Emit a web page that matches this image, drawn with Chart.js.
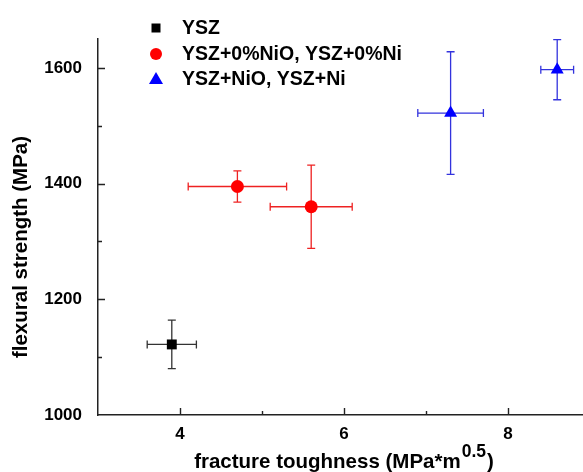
<!DOCTYPE html>
<html>
<head>
<meta charset="utf-8">
<script src="https://cdn.jsdelivr.net/npm/chart.js@4.4.0/dist/chart.umd.min.js"></script>
<style>
  html, body { margin: 0; padding: 0; background: #fff; overflow: hidden; }
</style>
</head>
<body>
<canvas id="chart" width="599" height="472"></canvas>
<script>
// --- data ---
const seriesNames = ['YSZ', 'YSZ+0%NiO, YSZ+0%Ni', 'YSZ+NiO, YSZ+Ni'];

const yszToughness = [3.9];
const yszStrength = [1122];
const yszToughErr = [0.3];
const yszStrengthErr = [42];

const zeroToughness = [4.7, 5.6];
const zeroStrength = [1395, 1360];
const zeroToughErr = [0.6, 0.5];
const zeroStrengthErr = [27, 72];

const niToughness = [7.3, 8.6];
const niStrength = [1522, 1597];
const niToughErr = [0.4, 0.2];
const niStrengthErr = [106, 52];

const xTickLabels = [4, 6, 8];
const yTickLabels = [1000, 1200, 1400, 1600];

const FONT = "'Liberation Sans', Arial, sans-serif";

const toPoints = (xs, ys) => xs.map((x, i) => ({ x, y: ys[i] }));

// --- error bars, drawn under the markers ---
const errorBars = {
  id: 'errorBars',
  beforeDatasetsDraw(chart) {
    const { ctx, scales: { x, y } } = chart;
    chart.data.datasets.forEach(ds => {
      ds.data.forEach((p, i) => {
        const cx = x.getPixelForValue(p.x), cy = y.getPixelForValue(p.y);
        const x0 = x.getPixelForValue(p.x - ds.xErr[i]), x1 = x.getPixelForValue(p.x + ds.xErr[i]);
        const y0 = y.getPixelForValue(p.y + ds.yErr[i]), y1 = y.getPixelForValue(p.y - ds.yErr[i]);
        const cap = 4;
        ctx.save();
        ctx.strokeStyle = ds.errColor;
        ctx.lineWidth = 1.3;
        ctx.beginPath();
        ctx.moveTo(x0, cy); ctx.lineTo(x1, cy);
        ctx.moveTo(x0, cy - cap); ctx.lineTo(x0, cy + cap);
        ctx.moveTo(x1, cy - cap); ctx.lineTo(x1, cy + cap);
        ctx.moveTo(cx, y0); ctx.lineTo(cx, y1);
        ctx.moveTo(cx - cap, y0); ctx.lineTo(cx + cap, y0);
        ctx.moveTo(cx - cap, y1); ctx.lineTo(cx + cap, y1);
        ctx.stroke();
        ctx.restore();
      });
    });
  }
};

// --- inward tick marks (major labelled, minor short) ---
const innerTicks = {
  id: 'innerTicks',
  afterDraw(chart) {
    const { ctx, chartArea: a, scales: { x, y } } = chart;
    ctx.save();
    ctx.strokeStyle = '#222';
    ctx.lineWidth = 1.4;
    ctx.beginPath();
    x.ticks.forEach(t => {
      if (t.value <= x.min || t.value >= x.max) return;
      const px = Math.round(x.getPixelForValue(t.value)) + 0.5;
      const len = xTickLabels.includes(t.value) ? 7 : 4;
      ctx.moveTo(px, a.bottom); ctx.lineTo(px, a.bottom - len);
    });
    y.ticks.forEach(t => {
      if (t.value <= y.min || t.value >= y.max) return;
      const py = Math.round(y.getPixelForValue(t.value)) + 0.5;
      const len = yTickLabels.includes(t.value) ? 7 : 4;
      ctx.moveTo(a.left, py); ctx.lineTo(a.left + len, py);
    });
    ctx.stroke();
    ctx.restore();
  }
};

// --- axis titles (x title has a superscript) and the legend ---
const decorations = {
  id: 'decorations',
  afterDraw(chart) {
    const { ctx } = chart;
    ctx.save();
    ctx.fillStyle = '#000';

    // y title
    ctx.font = 'bold 20.5px ' + FONT;
    ctx.textAlign = 'center';
    ctx.textBaseline = 'middle';
    ctx.translate(21, 247);
    ctx.rotate(-Math.PI / 2);
    ctx.fillText('flexural strength (MPa)', 0, 0);
    ctx.setTransform(1, 0, 0, 1, 0, 0);

    // x title
    const main = 'fracture toughness (MPa*m', sup = '0.5', tail = ')';
    const big = 'bold 20.5px ' + FONT, small = 'bold 17.5px ' + FONT;
    ctx.textAlign = 'left';
    ctx.textBaseline = 'alphabetic';
    ctx.font = big;
    const wMain = ctx.measureText(main).width, wTail = ctx.measureText(tail).width;
    ctx.font = small;
    const wSup = ctx.measureText(sup).width;
    const sx = 344 - (wMain + wSup + wTail + 2) / 2;
    ctx.font = big;
    ctx.fillText(main, sx, 468);
    ctx.font = small;
    ctx.fillText(sup, sx + wMain + 1, 457);
    ctx.font = big;
    ctx.fillText(tail, sx + wMain + wSup + 2, 468);

    // legend
    const rows = [28, 54, 79];
    chart.data.datasets.forEach((ds, i) => {
      const mx = 156, my = rows[i];
      ctx.fillStyle = ds.backgroundColor;
      ctx.beginPath();
      if (ds.pointStyle === 'rect') ctx.rect(mx - 4.5, my - 4.5, 9, 9);
      else if (ds.pointStyle === 'circle') ctx.arc(mx, my, 6, 0, Math.PI * 2);
      else { ctx.moveTo(mx, my - 7); ctx.lineTo(mx + 7, my + 5); ctx.lineTo(mx - 7, my + 5); ctx.closePath(); }
      ctx.fill();
      ctx.fillStyle = '#000';
      ctx.font = 'bold 19.5px ' + FONT;
      ctx.textBaseline = 'middle';
      ctx.fillText(ds.label, 182, my + 1);
    });
    ctx.restore();
  }
};

new Chart(document.getElementById('chart'), {
  type: 'scatter',
  data: {
    datasets: [
      {
        label: seriesNames[0],
        data: toPoints(yszToughness, yszStrength),
        xErr: yszToughErr, yErr: yszStrengthErr,
        errColor: '#333',
        backgroundColor: '#000', borderColor: '#000',
        pointStyle: 'rect', pointRadius: 7, borderWidth: 0
      },
      {
        label: seriesNames[1],
        data: toPoints(zeroToughness, zeroStrength),
        xErr: zeroToughErr, yErr: zeroStrengthErr,
        errColor: '#ee2222',
        backgroundColor: '#ff0000', borderColor: '#ff0000',
        pointStyle: 'circle', pointRadius: 6.5, borderWidth: 0
      },
      {
        label: seriesNames[2],
        data: toPoints(niToughness, niStrength),
        xErr: niToughErr, yErr: niStrengthErr,
        errColor: '#3333dd',
        backgroundColor: '#0000ff', borderColor: '#0000ff',
        pointStyle: 'triangle', pointRadius: 7.5, borderWidth: 0
      }
    ]
  },
  options: {
    responsive: false,
    animation: false,
    layout: { padding: { top: 39, left: 0, right: 0, bottom: 0 } },
    plugins: { legend: { display: false }, tooltip: { enabled: false } },
    scales: {
      x: {
        type: 'linear', min: 3, max: 9,
        afterFit: s => { s.height = 57; },
        grid: { display: false, drawTicks: false },
        border: { display: true, color: '#222', width: 1.5 },
        ticks: {
          stepSize: 1, autoSkip: false, maxRotation: 0, padding: 9,
          color: '#000', font: { family: FONT, size: 17, weight: 'bold' },
          callback: v => xTickLabels.includes(v) ? String(v) : ''
        }
      },
      y: {
        type: 'linear', min: 1000, max: 1650,
        afterFit: s => { s.width = 98; },
        grid: { display: false, drawTicks: false },
        border: { display: true, color: '#222', width: 1.5 },
        ticks: {
          stepSize: 100, autoSkip: false, padding: 16,
          color: '#000', font: { family: FONT, size: 17, weight: 'bold' },
          callback: v => yTickLabels.includes(v) ? String(v) : ''
        }
      }
    }
  },
  plugins: [errorBars, innerTicks, decorations]
});
</script>
</body>
</html>
